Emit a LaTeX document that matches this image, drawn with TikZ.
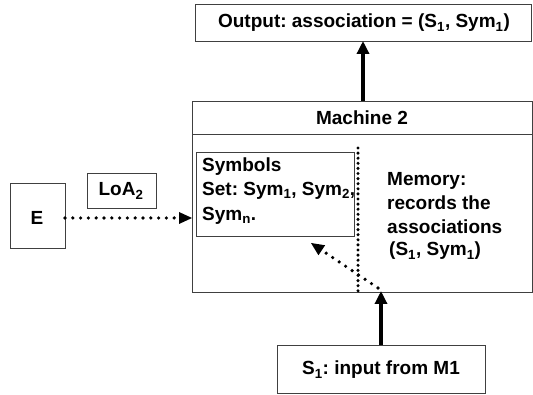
\documentclass[tikz,border=0pt]{standalone}
\usepackage{fontspec}
\setmainfont{Liberation Sans}
\usetikzlibrary{arrows.meta}
\newcommand{\sub}[1]{\textsubscript{#1}}
\begin{document}
\frenchspacing
\begin{tikzpicture}[x=1pt,y=-1pt,
  box/.style={draw=black!75,line width=0.9pt},
  txt/.style={font=\bfseries\fontsize{19}{21}\selectfont\frenchspacing,inner sep=0pt},
  thickarrow/.style={line width=3.5pt,-{Triangle[length=13pt,width=12pt]}},
  dotline/.style={line width=3.6pt,line cap=round,dash pattern=on 0pt off 7.8pt},
  vdotline/.style={line width=3.4pt,line cap=round,dash pattern=on 0pt off 5.1pt},
  dotarrow/.style={dotline,-{Triangle[length=13pt,width=12pt,line width=0pt]}}]
\useasboundingbox (0,0) rectangle (533,395);
% output box
\draw[box] (195,4) rectangle (531,41);
\node[txt] (out) at (364,23) {Output: association = (S\sub{1}, Sym\sub{1})};
\coordinate (outb) at (363,41);
% machine
\draw[box] (192,101) rectangle (532,292);
\draw[box] (192,134) -- (532,134);
\node[txt] (m2) at (362,118) {Machine 2};
\coordinate (mtop) at (363,101);
\draw[thickarrow] (mtop) -- (outb);
% symbols
\draw[box] (196,152) rectangle (354,236);
\node[txt,anchor=west] (sy1) at (202,167) {Symbols};
\node[txt,anchor=west] (sy2) at (202,191) {Set: Sym\sub{1}, Sym\sub{2},};
\node[txt,anchor=west] (sy3) at (202,216) {Sym\sub{n}.};
\coordinate (symb) at (311,243);
% memory
\node[txt,anchor=west] (me1) at (387,181) {Memory:};
\node[txt,anchor=west] (me2) at (387,203) {records the};
\node[txt,anchor=west] (me3) at (387,227) {associations};
\node[txt,anchor=west] (me4) at (389,251) {(S\sub{1}, Sym\sub{1})};
% dotted vertical
\coordinate (vt) at (358,148);
\coordinate (vb) at (358,292);
\draw[vdotline] (vt) -- (vb);
% input
\draw[box] (277,345) rectangle (485,393);
\node[txt] (in) at (381,370) {S\sub{1}: input from M1};
\coordinate (int) at (381,345);
\coordinate (inb) at (381,291);
\draw[thickarrow] (int) -- (inb);
\coordinate (dstart) at (378,288);
\draw[dotarrow] (dstart) -- (symb);
% E
\draw[box] (10,183) rectangle (65,248);
\node[txt] (e) at (37,218) {E};
\draw[box] (87,173) rectangle (156,208);
\node[txt] (loa) at (121,191) {LoA\sub{2}};
\coordinate (er) at (65,218);
\coordinate (ml) at (192,218);
\draw[dotarrow] (er) -- (ml);
\end{tikzpicture}
\end{document}
